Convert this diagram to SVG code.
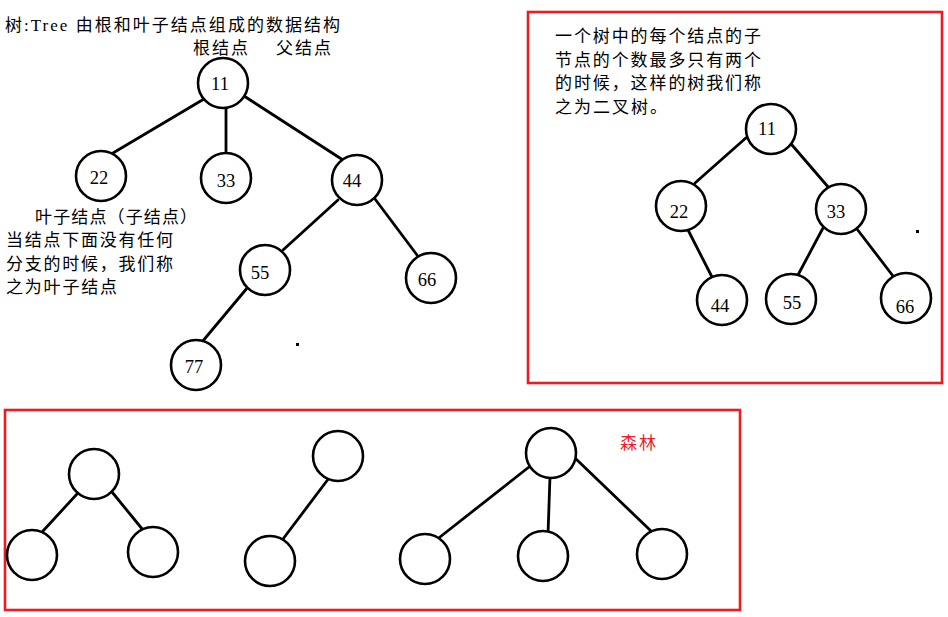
<svg xmlns="http://www.w3.org/2000/svg" width="948" height="617" viewBox="0 0 948 617">
<style>
.n{fill:#fff;stroke:#000;stroke-width:2.6}
.e{stroke:#000;stroke-width:2.8;fill:none;stroke-linecap:round}
.num{font-family:"Liberation Serif","Noto Sans CJK SC",serif;font-size:18.5px;fill:#000;text-anchor:middle}
.t{font-family:"Liberation Serif","Noto Sans CJK SC",serif;font-size:17px;fill:#000}
.box{fill:none;stroke:#ED1C24;stroke-width:2.6}
</style>
<rect width="948" height="617" fill="#fff"/>
<g id="labels">
<text class="t" x="5" y="31" textLength="335" lengthAdjust="spacing">树:Tree 由根和叶子结点组成的数据结构</text>
<text class="t" x="193" y="54" textLength="55" lengthAdjust="spacing">根结点</text>
<text class="t" x="276" y="54" textLength="55" lengthAdjust="spacing">父结点</text>
<text class="t" x="35" y="223" textLength="162" lengthAdjust="spacing">叶子结点（子结点）</text>
<text class="t" x="6" y="246" textLength="167" lengthAdjust="spacing">当结点下面没有任何</text>
<text class="t" x="6" y="270" textLength="167" lengthAdjust="spacing">分支的时候，我们称</text>
<text class="t" x="6" y="293" textLength="111" lengthAdjust="spacing">之为叶子结点</text>
<rect x="296" y="343" width="3" height="3" fill="#000"/>
</g>
<g id="connectors">
<line class="e" x1="204" y1="99" x2="113" y2="153"/>
<line class="e" x1="226" y1="108" x2="226" y2="153"/>
<line class="e" x1="244" y1="96" x2="343" y2="160"/>
<line class="e" x1="338" y1="200" x2="283" y2="250"/>
<line class="e" x1="375" y1="199" x2="417" y2="255"/>
<line class="e" x1="248" y1="287" x2="202" y2="342"/>
<line class="e" x1="747" y1="137" x2="695" y2="183"/>
<line class="e" x1="792" y1="145" x2="829" y2="188"/>
<line class="e" x1="687" y1="228" x2="712" y2="277"/>
<line class="e" x1="823" y1="228" x2="798" y2="275"/>
<line class="e" x1="857" y1="229" x2="893" y2="276"/>
<line class="e" x1="77" y1="494" x2="43" y2="531"/>
<line class="e" x1="112" y1="492" x2="143" y2="530"/>
<line class="e" x1="329" y1="478" x2="283" y2="539"/>
<line class="e" x1="529" y1="467" x2="440" y2="537"/>
<line class="e" x1="550" y1="476" x2="548" y2="535"/>
<line class="e" x1="576" y1="459" x2="651" y2="531"/>
</g>
<g id="t1-11"><circle class="n" cx="223" cy="83" r="25"/><text class="num" x="220" y="90">11</text></g>
<g id="t1-22"><circle class="n" cx="101" cy="176" r="25"/><text class="num" x="99" y="184">22</text></g>
<g id="t1-33"><circle class="n" cx="226" cy="178" r="25"/><text class="num" x="226" y="187">33</text></g>
<g id="t1-44"><circle class="n" cx="357" cy="180" r="25"/><text class="num" x="352" y="187">44</text></g>
<g id="t1-55"><circle class="n" cx="265" cy="270" r="25"/><text class="num" x="260" y="279">55</text></g>
<g id="t1-66"><circle class="n" cx="431" cy="278" r="25"/><text class="num" x="427" y="286">66</text></g>
<g id="t1-77"><circle class="n" cx="196" cy="365" r="25"/><text class="num" x="194" y="373">77</text></g>
<g id="binary-box">
<rect class="box" x="528" y="12" width="414" height="371"/>
<text class="t" x="555" y="42" textLength="206" lengthAdjust="spacing">一个树中的每个结点的子</text>
<text class="t" x="555" y="66" textLength="206" lengthAdjust="spacing">节点的个数最多只有两个</text>
<text class="t" x="555" y="89" textLength="206" lengthAdjust="spacing">的时候，这样的树我们称</text>
<text class="t" x="555" y="113" textLength="112" lengthAdjust="spacing">之为二叉树。</text>
<rect x="916" y="230" width="3" height="3" fill="#000"/>
</g>
<g id="t2-11"><circle class="n" cx="771" cy="129" r="25"/><text class="num" x="767" y="135">11</text></g>
<g id="t2-22"><circle class="n" cx="681" cy="206" r="25"/><text class="num" x="679" y="218">22</text></g>
<g id="t2-33"><circle class="n" cx="841" cy="209" r="25"/><text class="num" x="836" y="218">33</text></g>
<g id="t2-44"><circle class="n" cx="722" cy="300" r="25"/><text class="num" x="720" y="312">44</text></g>
<g id="t2-55"><circle class="n" cx="791" cy="299" r="25"/><text class="num" x="792" y="309">55</text></g>
<g id="t2-66"><circle class="n" cx="906" cy="298" r="25"/><text class="num" x="905" y="313">66</text></g>
<g id="forest-box">
<rect class="box" x="5" y="410" width="735" height="200"/>
<text x="620" y="449" font-family="'Noto Sans CJK SC',sans-serif" font-size="17" fill="#ED1C24" textLength="36" lengthAdjust="spacing">森林</text>
</g>
<g id="fa-root"><circle class="n" cx="94" cy="474" r="25"/></g>
<g id="fa-left"><circle class="n" cx="32" cy="555" r="25"/></g>
<g id="fa-right"><circle class="n" cx="153" cy="552" r="25"/></g>
<g id="fb-root"><circle class="n" cx="338" cy="456" r="25"/></g>
<g id="fb-child"><circle class="n" cx="270" cy="561" r="25"/></g>
<g id="fc-root"><circle class="n" cx="551" cy="453" r="25"/></g>
<g id="fc-left"><circle class="n" cx="425" cy="559" r="25"/></g>
<g id="fc-mid"><circle class="n" cx="543" cy="556" r="25"/></g>
<g id="fc-right"><circle class="n" cx="662" cy="554" r="25"/></g>
</svg>
